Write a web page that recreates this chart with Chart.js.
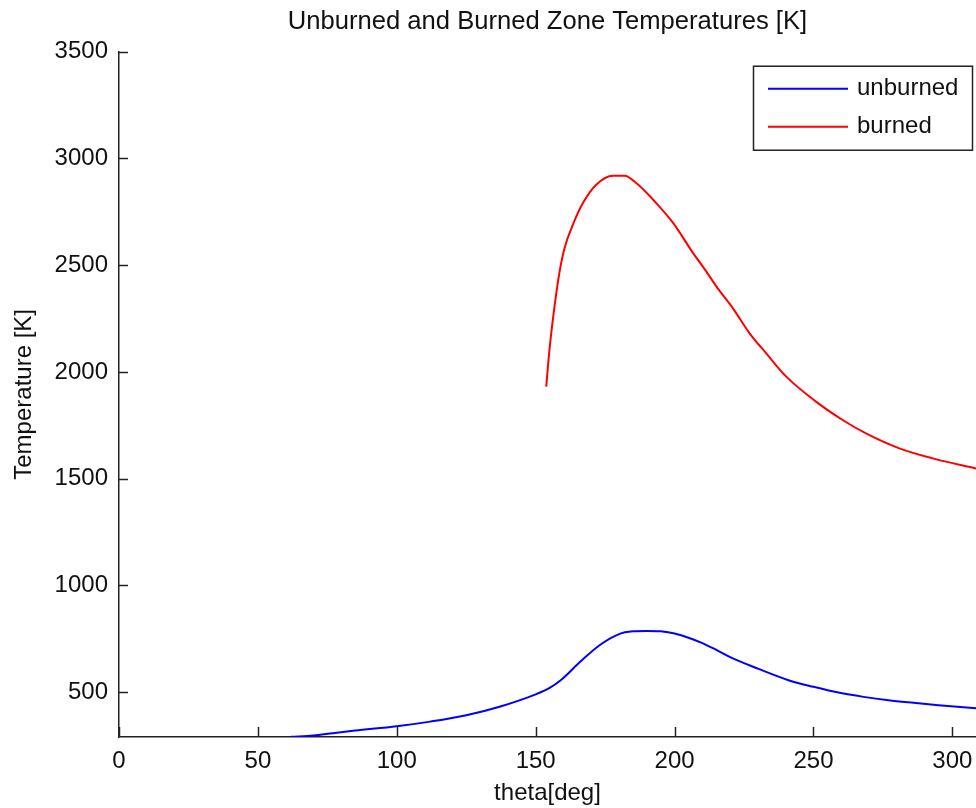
<!DOCTYPE html>
<html>
<head>
<meta charset="utf-8">
<script src="https://cdn.jsdelivr.net/npm/chart.js@4/dist/chart.umd.min.js"></script>
<style>
  html, body { margin: 0; padding: 0; background: #fff; }
  canvas { display: block; }
</style>
</head>
<body>
<canvas id="tempChart" width="976" height="808"></canvas>
<script>
// ---- data ----
const thetaUnburned = [62, 70, 77, 85, 100, 112, 125, 137, 150, 155, 159, 166, 173, 180, 185, 190, 195, 200, 205, 210, 215, 220, 230, 241, 250, 259, 268, 277, 286, 295, 308.5];
const tempUnburned  = [291, 297, 308, 320, 340, 362, 392, 432, 490, 520, 556, 642, 720, 772, 785, 787, 785, 775, 755, 730, 698, 664, 610, 556, 525, 498, 478, 462, 450, 439, 425];

const thetaBurned = [153.8, 154.5, 155.5, 156.8, 158.6, 160.4, 163.4, 167, 171.8, 177.8, 182, 186.2, 193.4, 199.4, 206.6, 211, 215.6, 221, 227, 233, 240.2, 250.9, 260.5, 268.9, 280.9, 292.9, 308.5];
const tempBurned  = [1931, 2040, 2170, 2310, 2470, 2581, 2690, 2791, 2877, 2919, 2919, 2885, 2791, 2699, 2558, 2478, 2390, 2298, 2181, 2087, 1978, 1861, 1775, 1712, 1642, 1595, 1548];

const seriesLabels = ['unburned', 'burned'];
const xTicks = [0, 50, 100, 150, 200, 250, 300];
const yTicks = [500, 1000, 1500, 2000, 2500, 3000, 3500];

const FONT = "'Liberation Sans', Arial, sans-serif";

function toPoints(xs, ys) {
    return xs.map((x, i) => ({ x: x, y: ys[i] }));
}

// MATLAB style inward ticks
const inwardTicks = {
    id: 'inwardTicks',
    afterDraw(chart) {
        const ctx = chart.ctx;
        const area = chart.chartArea;
        const xs = chart.scales.x;
        const ys = chart.scales.y;
        ctx.save();
        ctx.strokeStyle = '#222';
        ctx.lineWidth = 1.5;
        xs.ticks.forEach(t => {
            const px = Math.round(xs.getPixelForValue(t.value)) + 0.5;
            ctx.beginPath();
            ctx.moveTo(px, area.bottom);
            ctx.lineTo(px, area.bottom - 10);
            ctx.stroke();
        });
        ys.ticks.forEach(t => {
            const py = Math.round(ys.getPixelForValue(t.value)) + 0.5;
            ctx.beginPath();
            ctx.moveTo(area.left, py);
            ctx.lineTo(area.left + 9, py);
            ctx.stroke();
        });
        ctx.restore();
    }
};

// boxed legend in the top right corner
const boxLegend = {
    id: 'boxLegend',
    afterDraw(chart) {
        const ctx = chart.ctx;
        const area = chart.chartArea;
        const w = 219, h = 84;
        const x0 = area.right - 4, y0 = area.top + 14;
        const left = x0 - w;
        ctx.save();
        ctx.fillStyle = '#fff';
        ctx.fillRect(left, y0, w, h);
        ctx.strokeStyle = '#222';
        ctx.lineWidth = 1.5;
        ctx.strokeRect(left + 0.5, y0 + 0.5, w, h);
        ctx.font = '24px ' + FONT;
        ctx.textBaseline = 'middle';
        ctx.textAlign = 'left';
        chart.data.datasets.forEach((ds, i) => {
            const cy = y0 + 23 + i * 38;
            ctx.strokeStyle = ds.borderColor;
            ctx.lineWidth = 2;
            ctx.beginPath();
            ctx.moveTo(left + 15, cy);
            ctx.lineTo(left + 95, cy);
            ctx.stroke();
            ctx.fillStyle = '#111';
            ctx.fillText(ds.label, left + 104, cy);
        });
        ctx.restore();
    }
};

new Chart(document.getElementById('tempChart'), {
    type: 'line',
    data: {
        datasets: [{
            label: seriesLabels[0],
            data: toPoints(thetaUnburned, tempUnburned),
            borderColor: '#0000ff',
            borderWidth: 2,
            pointRadius: 0,
            fill: false,
            cubicInterpolationMode: 'monotone'
        }, {
            label: seriesLabels[1],
            data: toPoints(thetaBurned, tempBurned),
            borderColor: '#ff0000',
            borderWidth: 2,
            pointRadius: 0,
            fill: false,
            cubicInterpolationMode: 'monotone'
        }]
    },
    options: {
        responsive: false,
        animation: false,
        layout: { padding: 0 },
        plugins: {
            legend: { display: false },
            tooltip: { enabled: false },
            title: {
                display: true,
                fullSize: false,
                text: 'Unburned and Burned Zone Temperatures [K]',
                color: '#111',
                font: { family: FONT, size: 25.6, weight: 'normal', lineHeight: 1.2 },
                padding: { top: 7, bottom: 14 }
            }
        },
        scales: {
            x: {
                type: 'linear',
                min: 0,
                max: 308.5,
                ticks: {
                    autoSkip: false,
                    maxRotation: 0,
                    color: '#111',
                    padding: 10,
                    font: { family: FONT, size: 24 },
                    callback: v => String(v)
                },
                grid: { display: true, drawOnChartArea: false, drawTicks: false },
                border: { display: true, color: '#222', width: 1.5 },
                title: {
                    display: true,
                    text: 'theta[deg]',
                    color: '#111',
                    font: { family: FONT, size: 24 },
                    padding: { top: 0, bottom: 0 }
                },
                afterBuildTicks(scale) {
                    scale.ticks = xTicks.map(v => ({ value: v }));
                },
                afterFit(scale) {
                    scale.height = 71;
                    scale.paddingLeft = 0;
                    scale.paddingRight = 0;
                }
            },
            y: {
                type: 'linear',
                min: 290,
                max: 3500,
                ticks: {
                    autoSkip: false,
                    color: '#111',
                    padding: 11,
                    font: { family: FONT, size: 24 },
                    callback: v => String(v)
                },
                grid: { display: true, drawOnChartArea: false, drawTicks: false },
                border: { display: true, color: '#222', width: 1.5 },
                title: {
                    display: true,
                    text: 'Temperature [K]',
                    color: '#111',
                    font: { family: FONT, size: 24 },
                    padding: { top: 10, bottom: 0 }
                },
                afterBuildTicks(scale) {
                    scale.ticks = yTicks.map(v => ({ value: v }));
                },
                afterFit(scale) {
                    scale.width = 119;
                    scale.paddingTop = 0;
                    scale.paddingBottom = 0;
                }
            }
        }
    },
    plugins: [inwardTicks, boxLegend]
});
</script>
</body>
</html>
